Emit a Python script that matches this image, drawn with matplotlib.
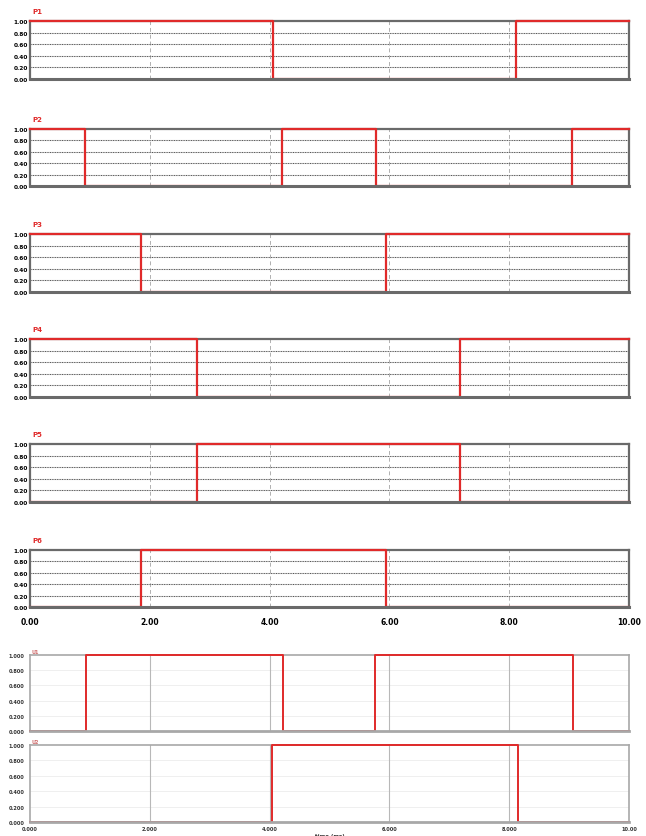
import matplotlib.pyplot as plt
import numpy as np

# switching signals (time in ms, level 0/1)
p1_t = [0, 4.06, 8.12, 10.0]
p1_v = [1, 0, 1, 1]
p2_t = [0, 0.92, 4.2, 5.78, 9.05, 10.0]
p2_v = [1, 0, 1, 0, 1, 1]
p3_t = [0, 1.85, 5.94, 10.0]
p3_v = [1, 0, 1, 1]
p4_t = [0, 2.79, 7.18, 10.0]
p4_v = [1, 0, 1, 1]
p5_t = [0, 2.79, 7.18, 10.0]
p5_v = [0, 1, 0, 0]
p6_t = [0, 1.85, 5.94, 10.0]
p6_v = [0, 1, 0, 0]
u1_t = [0, 0.93, 4.22, 5.76, 9.06, 10.0]
u1_v = [0, 1, 0, 1, 0, 0]
u2_t = [0, 4.04, 8.15, 10.0]
u2_v = [0, 1, 0, 0]

top_names = ["P1", "P2", "P3", "P4", "P5", "P6"]
top_series = [(p1_t, p1_v), (p2_t, p2_v), (p3_t, p3_v),
              (p4_t, p4_v), (p5_t, p5_v), (p6_t, p6_v)]
bot_names = ["U1", "U2"]
bot_series = [(u1_t, u1_v), (u2_t, u2_v)]

x_ticks = [0, 2, 4, 6, 8, 10]
top_xlabels = ["0.00", "2.00", "4.00", "6.00", "8.00", "10.00"]
bot_xlabels = ["0.000", "2.000", "4.000", "6.000", "8.000", "10.00"]
y_ticks = [0, 0.2, 0.4, 0.6, 0.8, 1.0]
top_ylabels = ["0.00", "0.20", "0.40", "0.60", "0.80", "1.00"]
bot_ylabels = ["0.000", "0.200", "0.400", "0.600", "0.800", "1.000"]

W, H = 646, 837
RED = "#e02a2a"

fig = plt.figure(figsize=(W / 100, H / 100), dpi=100)
fig.patch.set_facecolor("white")

def rect(top, bottom, left=30, right=629):
    return [left / W, 1 - bottom / H, (right - left) / W, (bottom - top) / H]

# ---- six upper panels
top_px = [(22, 80), (130, 187), (235, 293), (340, 398), (445, 503), (551, 608)]
for i, ((t, v), (yt, yb)) in enumerate(zip(top_series, top_px)):
    ax = fig.add_axes(rect(yt, yb))
    ax.step(t, v, where="post", color=RED, lw=1.6, clip_on=False, zorder=5)
    ax.set_xlim(0, 10)
    ax.set_ylim(0, 1)
    for s in ax.spines.values():
        s.set_color("#6a6a6a")
        s.set_linewidth(1.6)
    # low level hides under the bottom frame, high level sits on top
    ax.spines["bottom"].set_zorder(6)
    ax.spines["bottom"].set_linewidth(2.2)
    for yy in [0.2, 0.4, 0.6, 0.8]:
        ax.axhline(yy, color="#c8c8c8", lw=0.8, zorder=1)
        ax.axhline(yy, color="#505050", lw=0.7, ls=(0, (1, 1.5)), zorder=2)
    for xx in [2, 4, 6, 8]:
        ax.axvline(xx, color="#b0b0b0", lw=0.7, ls=(0, (4, 3)), zorder=1)
    ax.set_yticks(y_ticks)
    ax.set_yticklabels(top_ylabels, fontsize=4.2, fontweight="bold")
    ax.tick_params(axis="y", length=0, pad=1.5)
    ax.set_xticks(x_ticks)
    if i == 5:
        ax.set_xticklabels(top_xlabels, fontsize=5.5, fontweight="bold")
        ax.tick_params(axis="x", length=0, pad=7)
    else:
        ax.set_xticklabels([])
        ax.tick_params(axis="x", length=0)
    ax.text(0.004, 1.12, top_names[i], transform=ax.transAxes, color=RED,
            fontsize=5, fontweight="bold", ha="left", va="bottom")

# ---- two lower panels
bot_px = [(656, 732), (746, 823)]
for i, ((t, v), (yt, yb)) in enumerate(zip(bot_series, bot_px)):
    ax = fig.add_axes(rect(yt, yb))
    ax.step(t, v, where="post", color=RED, lw=1.4, clip_on=False, zorder=5)
    ax.set_xlim(0, 10)
    ax.set_ylim(0, 1)
    for s in ax.spines.values():
        s.set_color("#a8a8a8")
        s.set_linewidth(1.2)
    ax.spines["bottom"].set_zorder(6)
    ax.spines["bottom"].set_linewidth(2.0)
    for yy in [0.2, 0.4, 0.6, 0.8]:
        ax.axhline(yy, color="#ececec", lw=0.6, zorder=1)
    for xx in [2, 4, 6, 8]:
        ax.axvline(xx, color="#b8b8b8", lw=0.8, zorder=1)
    ax.set_yticks(y_ticks)
    ax.set_yticklabels(bot_ylabels, fontsize=3.6, fontweight="bold",
                       color="#333333")
    ax.tick_params(axis="y", length=0, pad=4)
    ax.set_xticks(x_ticks)
    if i == 1:
        ax.set_xticklabels(bot_xlabels, fontsize=3.6, fontweight="bold",
                           color="#333333")
        ax.tick_params(axis="x", length=0, pad=3)
        ax.set_xlabel("time (ms)", fontsize=4, fontweight="bold",
                      color="#333333", labelpad=1)
    else:
        ax.set_xticklabels([])
        ax.tick_params(axis="x", length=0)
    ax.text(0.003, 1.01, bot_names[i], transform=ax.transAxes, color="#d07070",
            fontsize=3.5, fontweight="bold", ha="left", va="bottom")

fig.savefig("out.png", dpi=100, facecolor="white")
